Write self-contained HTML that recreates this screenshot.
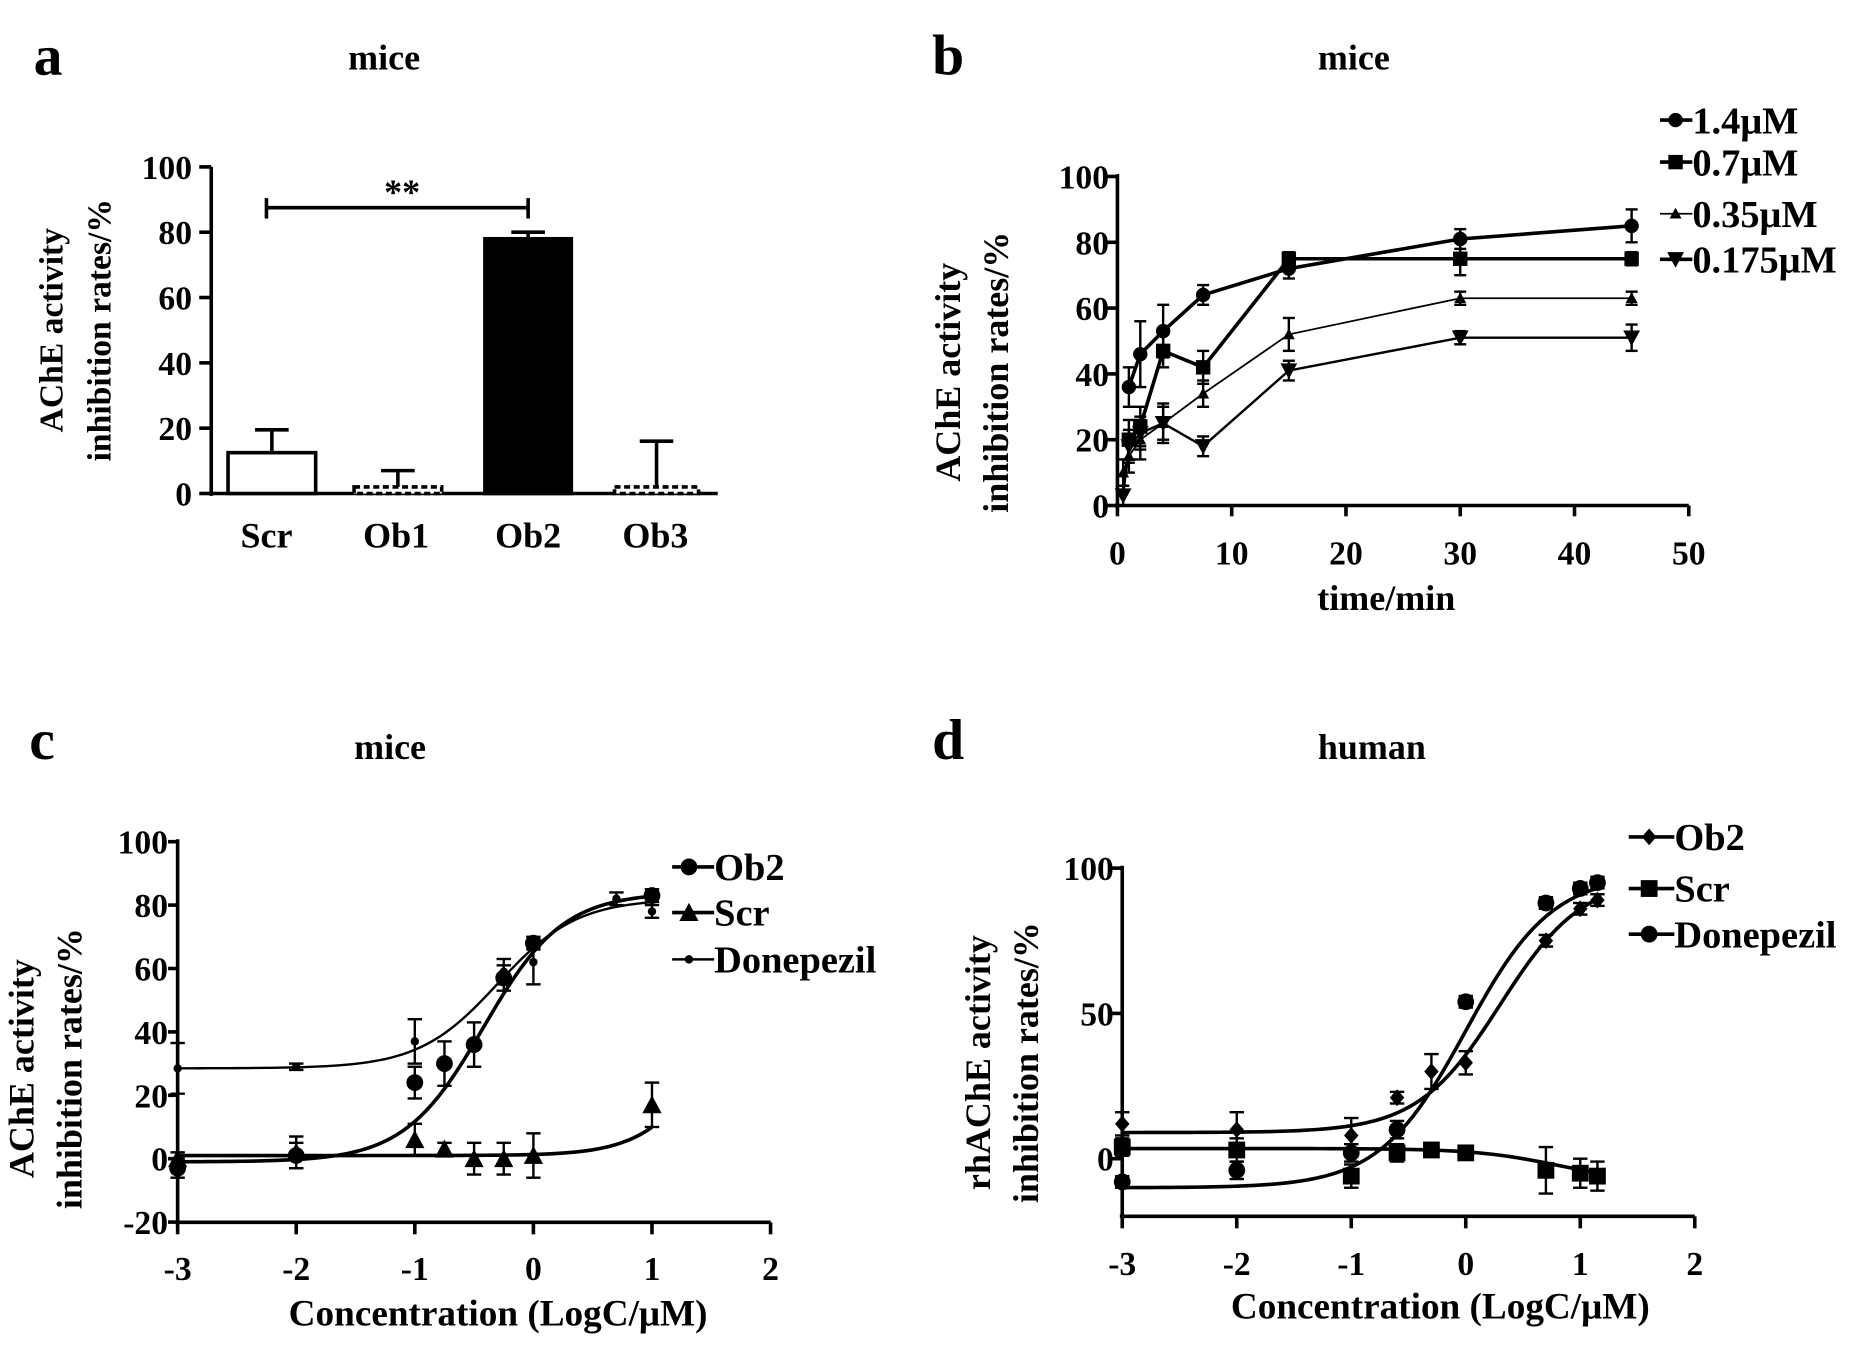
<!DOCTYPE html>
<html><head><meta charset="utf-8"><style>
html,body{margin:0;padding:0;background:#fff}
svg{display:block}
</style></head><body>
<svg id="s" width="1876" height="1346" viewBox="0 0 1563 1121" preserveAspectRatio="none" xmlns="http://www.w3.org/2000/svg"></svg>
<script>
const s=document.getElementById('s');let h='';
const T=(x,y,t,sz,a='middle',ex='')=>h+=`<text x="${x}" y="${y}" font-family="'Liberation Serif', serif" font-weight="bold" fill="#000" font-size="${sz}" text-anchor="${a}" ${ex}>${t}</text>`;
const L=(x1,y1,x2,y2,w=3)=>h+=`<line x1="${x1}" y1="${y1}" x2="${x2}" y2="${y2}" stroke="#000" stroke-width="${w}"/>`;
function mk(x,y,t,r){r=r||7;
 if(t=='c')h+=`<circle cx="${x}" cy="${y}" r="${r}" fill="#000"/>`;
 else if(t=='sm')h+=`<circle cx="${x}" cy="${y}" r="3.5" fill="#000"/>`;
 else if(t=='s')h+=`<rect x="${x-r}" y="${y-r}" width="${2*r}" height="${2*r}" fill="#000"/>`;
 else if(t=='t')h+=`<polygon points="${x},${y-r-1} ${x-r-1},${y+r} ${x+r+1},${y+r}" fill="#000"/>`;
 else if(t=='ts')h+=`<polygon points="${x},${y-5} ${x-5},${y+4} ${x+5},${y+4}" fill="#000"/>`;
 else if(t=='v')h+=`<polygon points="${x},${y+r+1} ${x-r-1},${y-r} ${x+r+1},${y-r}" fill="#000"/>`;
 else if(t=='d')h+=`<polygon points="${x},${y-7} ${x-6},${y} ${x},${y+7} ${x+6},${y}" fill="#000"/>`;}
function ylab(x,y,l1,l2,sz){T(x,y,l1,sz,'middle',`transform="rotate(-90 ${x} ${y})"`);T(x+40,y,l2,sz,'middle',`transform="rotate(-90 ${x+40} ${y})"`);}
T(40,62,'a',48);T(320,58,'mice',30);
L(176,139,176,413);L(174,411,598,411);
[0,20,40,60,80,100].forEach(v=>{let y=411-v*2.72;L(166,y,176,y);T(160,y+10,v,28,'end');});
ylab(52,275,'AChE activity','inhibition rates/%',28);
const ay=v=>411-v*2.72;
[[190,263,12.5,7,'#fff'],[295,368,2,5,'#fff'],[404,476,78,2,'#000'],[512,582,2,14,'#fff']].forEach(([a,b,v,e,f])=>{
 let m=(a+b)/2;L(m,ay(v),m,ay(v+e));L(m-14,ay(v+e),m+14,ay(v+e));
 h+=`<rect x="${a}" y="${ay(v)}" width="${b-a}" height="${411-ay(v)}" fill="${f}" stroke="#000" stroke-width="3" ${v<5?'stroke-dasharray="5 3"':''}/>`;});
['Scr','Ob1','Ob2','Ob3'].forEach((t,i)=>T([222,330,440,546][i],456,t,30));
L(222,173,440,173);L(222,165,222,182);L(440,165,440,182);T(335,170,'**',30);
T(790,62,'b',48);T(1128,58,'mice',30);
const bx=t=>931+t*9.52,by=v=>421-v*2.74;
L(931,145,931,423);L(929,421,1407,421);
[0,20,40,60,80,100].forEach(v=>{L(922,by(v),931,by(v));T(924,by(v)+10,v,28,'end');});
[0,10,20,30,40,50].forEach(t=>{L(bx(t),421,bx(t),430);T(bx(t),470,t,28);});
T(1155,508,'time/min',30);ylab(800,310,'AChE activity','inhibition rates/%',30);
const B=[['c',3,[[1,36,6],[2,46,10],[4,53,8],[7.5,64,3],[15,72,3],[30,81,3],[45,85,5]]],
['s',3,[[1,20,6],[2,24,6],[4,47,5],[7.5,42,5],[15,75,2],[30,75,5],[45,75,2]]],
['ts',1.5,[[0.5,10,4],[1,15,5],[2,20,6],[4,25,6],[7.5,34,4],[15,52,5],[30,63,2],[45,63,2]]],
['v',2,[[0.5,3,3],[1,18,5],[2,22,5],[4,25,5],[7.5,18,3],[15,41,3],[30,51,2],[45,51,4]]]];
B.forEach(([m,w,d])=>{h+=`<polyline fill="none" stroke="#000" stroke-width="${w}" points="${d.map(p=>bx(p[0])+','+by(p[1])).join(' ')}"/>`;
 d.forEach(p=>{L(bx(p[0]),by(p[1]-p[2]),bx(p[0]),by(p[1]+p[2]),2);L(bx(p[0])-5,by(p[1]+p[2]),bx(p[0])+5,by(p[1]+p[2]),2);L(bx(p[0])-5,by(p[1]-p[2]),bx(p[0])+5,by(p[1]-p[2]),2);mk(bx(p[0]),by(p[1]),m,6);});});
[['1.4μM','c',100,3],['0.7μM','s',135,3],['0.35μM','ts',178,1.5],['0.175μM','v',216,3]].forEach(([t,m,y,w])=>{L(1383,y,1410,y,w);mk(1396,y,m,6);T(1410,y+11,t,32,'start');});
const sig=(x,b,t,e,k)=>b+(t-b)/(1+Math.pow(10,(e-x)*k));
function curve(X,Y,b,t,e,k,w,x0,x1){let p=[];for(let x=x0;x<=x1+1e-9;x+=0.05)p.push(X(x)+','+Y(sig(x,b,t,e,k)));h+=`<polyline fill="none" stroke="#000" stroke-width="${w}" points="${p.join(' ')}"/>`;}
function pts(X,Y,d,m){d.forEach(p=>{L(X(p[0]),Y(p[1]-p[2]),X(p[0]),Y(p[1]+p[2]),2);L(X(p[0])-6,Y(p[1]+p[2]),X(p[0])+6,Y(p[1]+p[2]),2);L(X(p[0])-6,Y(p[1]-p[2]),X(p[0])+6,Y(p[1]-p[2]),2);mk(X(p[0]),Y(p[1]),m,7);});}
T(35,632,'c',48);T(325,632,'mice',30);
const cx=x=>148+(x+3)*98.8,cy=v=>965-v*2.64;
L(148,699,148,1020);L(146,1018,642,1018);
[-20,0,20,40,60,80,100].forEach(v=>{L(140,cy(v),148,cy(v));T(140,cy(v)+10,v,28,'end');});
[-3,-2,-1,0,1,2].forEach(x=>{L(cx(x),1018,cx(x),1028);T(cx(x),1066,x,28);});
T(415,1104,'Concentration (LogC/μM)',31);ylab(28,890,'AChE activity','inhibition rates/%',30);
curve(cx,cy,28.5,82,-0.3,1.3,2,-3,1);curve(cx,cy,-1,84,-0.42,1.3,3,-3,1);curve(cx,cy,1,60,1.5,1.5,3,-3,1);
pts(cx,cy,[[-3,28.5,8],[-2,29,1],[-1,37,7],[-0.25,59,4],[0,62,7],[0.7,82,2],[1,78,2]],'sm');
pts(cx,cy,[[-3,-3,3],[-2,1,4],[-1,24,5],[-0.75,30,7],[-0.5,36,7],[-0.25,57,4],[0,68,2],[1,83,2]],'c');
pts(cx,cy,[[-3,0,2],[-2,2,5],[-1,6,5],[-0.75,3,2],[-0.5,0,5],[-0.25,0,5],[0,1,7],[1,17,7]],'t');
[['Ob2','c',722,3],['Scr','t',760,3],['Donepezil','sm',799,2]].forEach(([t,m,y,w])=>{L(560,y,595,y,w);mk(574,y,m,7);T(595,y+11,t,32,'start');});
T(790,632,'d',48);T(1143,632,'human',30);
const dx=x=>935+(x+3)*95.4,dy=v=>965-v*2.42;
L(935,721,935,1015);L(933,1013,1412,1013);
[0,50,100].forEach(v=>{L(926,dy(v),935,dy(v));T(928,dy(v)+10,v,28,'end');});
[-3,-2,-1,0,1,2].forEach(x=>{L(dx(x),1013,dx(x),1023);T(dx(x),1062,x,28);});
T(1200,1098,'Concentration (LogC/μM)',31);ylab(825,885,'rhAChE activity','inhibition rates/%',30);
curve(dx,dy,-10,98,0,1.15,3,-3,1.15);curve(dx,dy,9,97,0.3,1.2,3,-3,1.15);curve(dx,dy,3.5,-8,0.8,1.2,3,-3,1.15);
pts(dx,dy,[[-3,-8,2],[-2,-4,3],[-1,2,3],[-0.6,10,3],[0,54,2],[0.7,88,2],[1,93,2],[1.15,95,2]],'c');
pts(dx,dy,[[-3,12,4],[-2,10,6],[-1,8,6],[-0.6,21,2],[-0.3,30,6],[0,33,4],[0.7,75,2],[1,86,2],[1.15,89,2]],'d');
pts(dx,dy,[[-3,4,3],[-2,3,4],[-1,-6,4],[-0.6,2,3],[-0.3,3,2],[0,2,2],[0.7,-4,8],[1,-5,5],[1.15,-6,5]],'s');
[['Ob2','d',697],['Scr','s',740],['Donepezil','c',778]].forEach(([t,m,y])=>{L(1357,y,1395,y,3);mk(1374,y,m,7);T(1395,y+11,t,32,'start');});
s.innerHTML=h;
</script>
</body></html>
